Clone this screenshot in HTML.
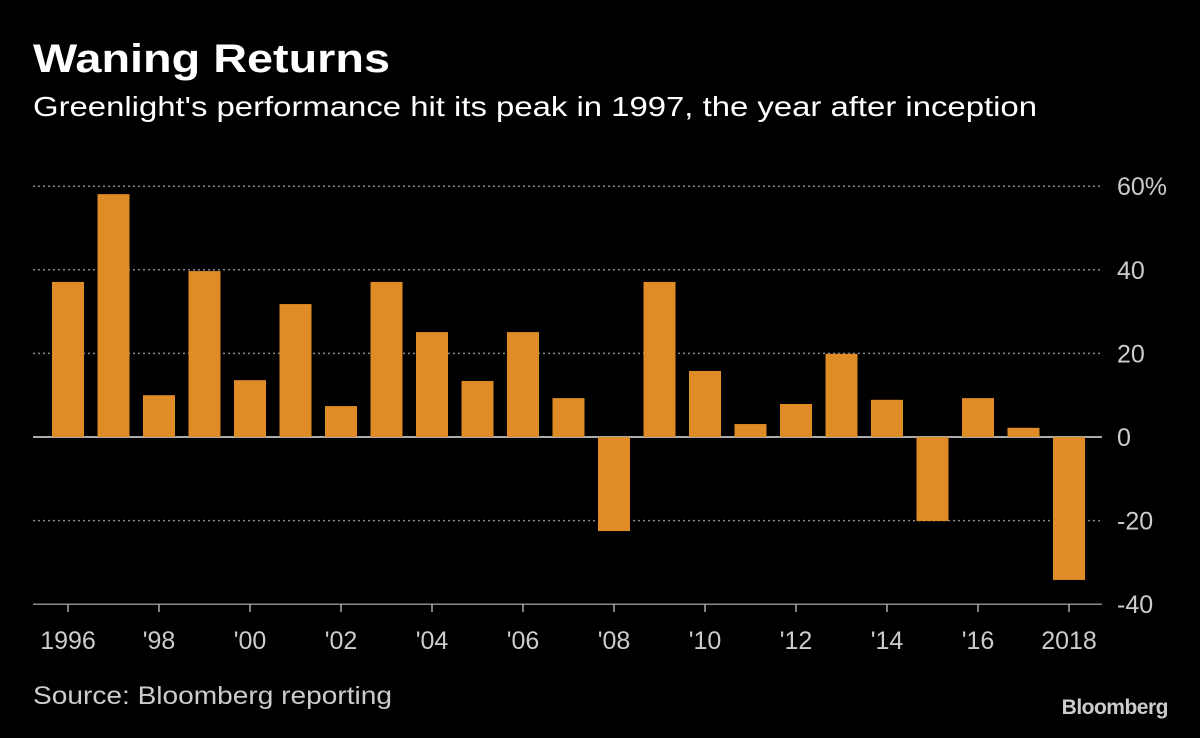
<!DOCTYPE html>
<html><head><meta charset="utf-8"><style>
body{margin:0;background:#000;width:1200px;height:733px;overflow:hidden;font-family:"Liberation Sans",sans-serif;color:#fff}
</style></head><body>
<svg width="1200" height="733" xmlns="http://www.w3.org/2000/svg">
<text x="33" y="72" font-size="40" font-weight="bold" fill="#fff" textLength="357" lengthAdjust="spacingAndGlyphs">Waning Returns</text>
<text x="33" y="116" font-size="28" fill="#fff" textLength="1004" lengthAdjust="spacingAndGlyphs">Greenlight's performance hit its peak in 1997, the year after inception</text>
<g id="grid"></g><g id="bars"></g><g id="xaxis"></g>
<text x="33" y="704" font-size="25" fill="#ccc" textLength="359" lengthAdjust="spacingAndGlyphs">Source: Bloomberg reporting</text>
<text x="1168" y="714" font-size="21" font-weight="bold" fill="#ccc" text-anchor="end" letter-spacing="-0.5">Bloomberg</text>
</svg>
<script>
const years=[1996,1997,1998,1999,2000,2001,2002,2003,2004,2005,2006,2007,2008,2009,2010,2011,2012,2013,2014,2015,2016,2017,2018];
const returns=[37.1,58.1,10,39.7,13.6,31.8,7.4,37.1,25.1,13.4,25.1,9.3,-22.5,37.1,15.8,3.1,7.9,19.9,8.9,-20.1,9.3,2.2,-34.2];
const yTicks=[60,40,20,0,-20,-40];
const yTickLabels=["60%","40","20","0","-20","-40"];
const xLabels=["1996","","'98","","'00","","'02","","'04","","'06","","'08","","'10","","'12","","'14","","'16","","2018"];
const NS="http://www.w3.org/2000/svg";
const y=v=>437-(v*4.18);
const x=i=>68+i*45.5;
function mk(t,a,p){const e=document.createElementNS(NS,t);for(const k in a)e.setAttribute(k,a[k]);p.appendChild(e);return e;}
const g=document.getElementById('grid'),b=document.getElementById('bars'),xa=document.getElementById('xaxis');
yTicks.forEach((v,i)=>{
 const l=mk('line',{x1:33,x2:1102,y1:y(v),y2:y(v),stroke:v===0?'#aaa':'#888','stroke-width':v===0?2:1.5,'stroke-dasharray':(v===0||v===-40)?'none':'2,3'},g);
 
 
 const t=mk('text',{x:1117,y:y(v)+9,'font-size':25,fill:'#ccc'},g);t.textContent=yTickLabels[i];
 
 
});
returns.forEach((v,i)=>{
 const r=mk('rect',{x:x(i)-16,width:32,y:Math.min(y(v),y(0)),height:Math.abs(y(v)-y(0)),fill:'#df8b26'},b);
 
 
});
years.forEach((yr,i)=>{
 if(i%2)return;
 const tk=mk('line',{x1:x(i),x2:x(i),y1:604,y2:612,stroke:'#aaa','stroke-width':1.5},xa);
 
 
 const t=mk('text',{x:x(i),y:649,'font-size':25,fill:'#ccc','text-anchor':'middle'},xa);t.textContent=xLabels[i];
 
 
});
</script>
</body></html>
